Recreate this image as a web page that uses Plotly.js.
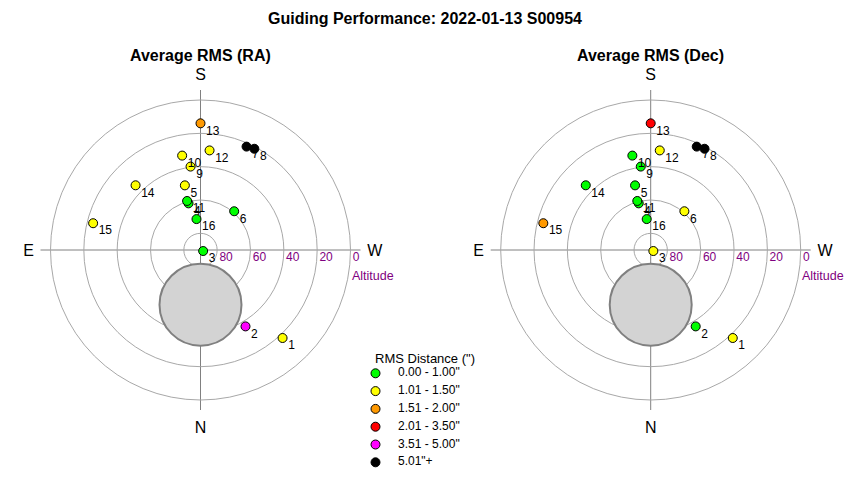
<!DOCTYPE html>
<html>
<head>
<meta charset="utf-8">
<script src="https://cdn.plot.ly/plotly-3.0.1.min.js"></script>
<style>html,body{margin:0;padding:0;background:#fff}#chart{width:850px;height:480px}</style>
</head>
<body>
<div id="chart"></div>
<script>
// ---- data ----
const pointIds = ['1','2','3','4','5','6','7','8','9','10','11','12','13','14','15','16'];
const altitude = [17.8, 36.8, 88.3, 61.1, 50.1, 59.2, 22.1, 21.2, 39.6, 32.3, 59.5, 30.0, 14.0, 35.0, 23.6, 71.3];
const azimuth  = [317, 329.5, 291, 165.6, 166.4, 221, 204, 208, 173.2, 169, 164.7, 185.2, 180, 134.9, 104, 172.6];
// RMS class index (0..5) per point, see binLabels
const raClass  = [1, 4, 0, 0, 1, 0, 5, 5, 1, 1, 0, 1, 2, 1, 1, 0];
const decClass = [1, 0, 1, 0, 0, 1, 5, 5, 0, 0, 0, 1, 3, 0, 2, 0];
const binLabels = ['0.00 - 1.00"', '1.01 - 1.50"', '1.51 - 2.00"', '2.01 - 3.50"', '3.51 - 5.00"', '5.01"+'];
const binColors = ['#00ff00', '#ffff00', '#ff9900', '#ff0000', '#ff00ff', '#000000'];
const altTicks = [80, 60, 40, 20, 0];
const compassVals = [0, 90, 180, 270];
const compassText = ['N', 'E', 'S', 'W'];
// obstruction circle (altitude, azimuth)
const obstacleAlt = 57.2;
const obstacleAz = 0;

const FONT = 'Liberation Sans, Arial, sans-serif';
const zd = a => 90 - a;
const NB = '\u00a0';

function polarTraces(sub, classes) {
  const tr = [];
  tr.push({
    type: 'scatterpolar', subplot: sub, mode: 'markers', hoverinfo: 'skip', showlegend: false,
    r: [zd(obstacleAlt)], theta: [obstacleAz],
    marker: {size: 82, color: '#d3d3d3', line: {color: '#808080', width: 2}}
  });
  // altitude tick labels along the W axis
  tr.push({
    type: 'scatterpolar', subplot: sub, mode: 'markers+text', hoverinfo: 'skip', showlegend: false,
    r: altTicks.map(zd), theta: altTicks.map(() => 270),
    text: altTicks.map(String),
    textposition: 'bottom right', cliponaxis: false,
    marker: {size: 2, opacity: 0},
    textfont: {family: FONT, size: 12, color: '#800080'}
  });
  // guiding points
  tr.push({
    type: 'scatterpolar', subplot: sub, mode: 'markers', showlegend: false, hoverinfo: 'skip',
    r: altitude.map(zd), theta: azimuth, cliponaxis: false,
    marker: {size: 9, color: classes.map(c => binColors[c]), line: {color: '#000', width: 1}}
  });
  // point numbers
  tr.push({
    type: 'scatterpolar', subplot: sub, mode: 'markers+text', showlegend: false, hoverinfo: 'skip',
    r: altitude.map(zd), theta: azimuth, text: pointIds.map(t => NB + t),
    textposition: 'bottom right', cliponaxis: false,
    marker: {size: 2, opacity: 0},
    textfont: {family: FONT, size: 12, color: '#000'}
  });
  return tr;
}

let data = [].concat(polarTraces('polar', raClass), polarTraces('polar2', decClass));

// manual legend (cartesian helper axes)
const legendRows = binLabels.map((_, i) => i);
data.push({
  type: 'scatter', xaxis: 'x', yaxis: 'y', mode: 'markers', showlegend: false, hoverinfo: 'skip',
  x: legendRows.map(() => 15.5), y: legendRows, cliponaxis: false,
  marker: {size: 9, color: binColors, line: {color: '#000', width: 1}}
});
data.push({
  type: 'scatter', xaxis: 'x', yaxis: 'y', mode: 'text', showlegend: false, hoverinfo: 'skip',
  x: legendRows.map(() => 38), y: legendRows, text: binLabels, cliponaxis: false,
  textposition: 'middle right', textfont: {family: FONT, size: 12, color: '#000'}
});

const centersX = [200.5, 650.7];
function polarLayout(cx) {
  return {
    domain: {x: [(cx - 160) / 850, (cx + 160) / 850], y: [70 / 480, 390 / 480]},
    bgcolor: '#fff',
    radialaxis: {range: [0, 96], tickvals: altTicks.map(zd), showticklabels: false, ticks: '',
                 showline: false, gridcolor: '#a8a8a8', gridwidth: 1},
    angularaxis: {rotation: -90, direction: 'clockwise', tickvals: compassVals, ticktext: compassText,
                  ticks: 'outside', ticklen: 3, tickcolor: 'rgba(0,0,0,0)', showline: false,
                  gridcolor: '#808080', gridwidth: 1,
                  tickfont: {family: FONT, size: 16, color: '#000'}}
  };
}

const annotations = [
  {text: '<b>Average RMS (RA)</b>', xref: 'paper', yref: 'paper', x: centersX[0] / 850, y: 1 - 55 / 480,
   xanchor: 'center', yanchor: 'middle', showarrow: false, font: {family: FONT, size: 16, color: '#000'}},
  {text: '<b>Average RMS (Dec)</b>', xref: 'paper', yref: 'paper', x: centersX[1] / 850, y: 1 - 55 / 480,
   xanchor: 'center', yanchor: 'middle', showarrow: false, font: {family: FONT, size: 16, color: '#000'}},
  {text: 'RMS Distance (")', xref: 'paper', yref: 'paper', x: 373 / 850, y: 1 - 358 / 480,
   xanchor: 'left', yanchor: 'middle', showarrow: false, font: {family: FONT, size: 13, color: '#000'}}
];
centersX.forEach(cx => {
  annotations.push({text: 'Altitude', xref: 'paper', yref: 'paper', x: (cx + 151) / 850, y: 1 - 275.5 / 480,
    xanchor: 'left', yanchor: 'middle', showarrow: false, xshift: -2,
    font: {family: FONT, size: 12.5, color: '#800080'}});
});

const layout = {
  width: 850, height: 480,
  margin: {l: 0, r: 0, t: 0, b: 0, autoexpand: false},
  paper_bgcolor: '#fff', plot_bgcolor: 'rgba(0,0,0,0)',
  font: {family: FONT, color: '#000'},
  title: {text: '<b>Guiding Performance: 2022-01-13 S00954</b>', font: {family: FONT, size: 16, color: '#000'},
          x: 0.5, xanchor: 'center', y: 1 - 18 / 480, yanchor: 'middle'},
  polar: polarLayout(centersX[0]),
  polar2: polarLayout(centersX[1]),
  showlegend: false,
  xaxis: {domain: [360 / 850, 500 / 850], range: [0, 140], visible: false, fixedrange: true},
  yaxis: {domain: [1 - 475 / 480, 1 - 350 / 480], range: [5.713, -1.309], visible: false, fixedrange: true},
  annotations: annotations
};

Plotly.newPlot('chart', data, layout, {staticPlot: true, displayModeBar: false});
</script>
</body>
</html>
